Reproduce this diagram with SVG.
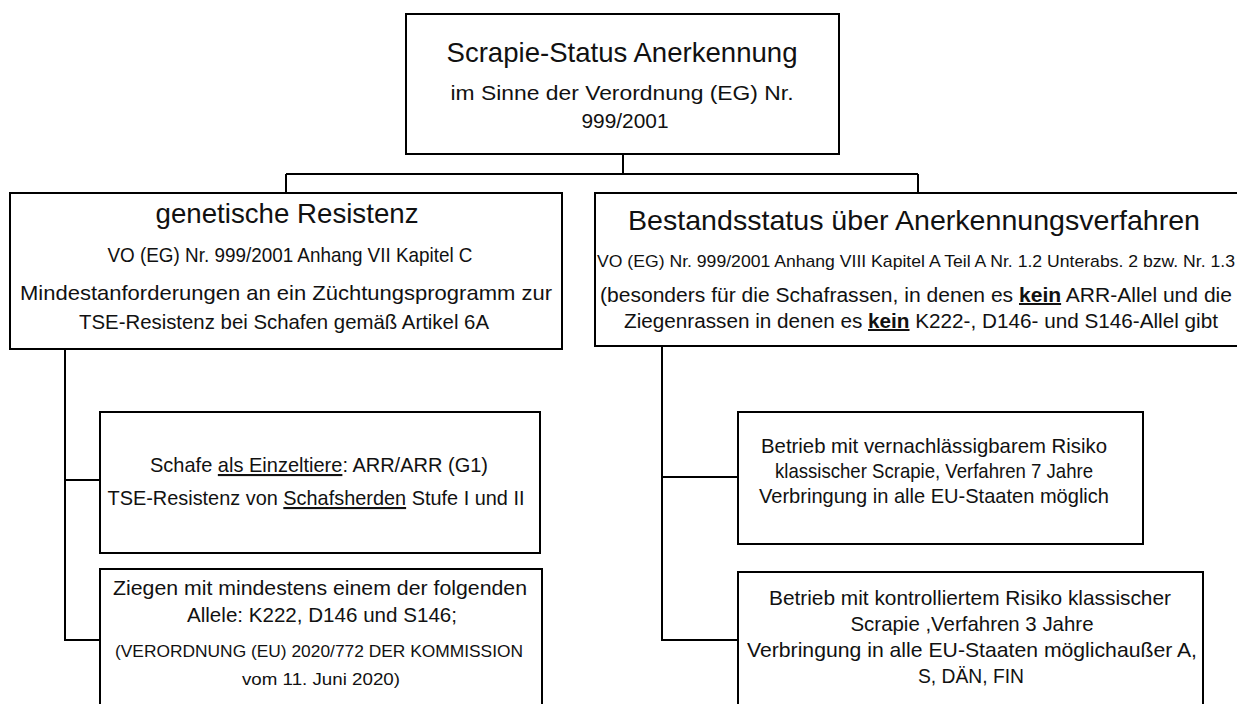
<svg xmlns="http://www.w3.org/2000/svg" width="1237" height="704" viewBox="0 0 1237 704">
<style>
.box{fill:#fff;stroke:#000;stroke-width:2}
.conn{fill:none;stroke:#000;stroke-width:2}
text{font-family:"Liberation Sans",Arial,sans-serif;fill:#111;text-anchor:middle}
.t1{font-size:28px}
.b{font-size:21px}
.m{font-size:20px}
.s{font-size:17px}
.u{text-decoration:underline}
.k{font-weight:bold;text-decoration:underline}
</style>
<rect width="1237" height="704" fill="#fff"/>
<g id="connectors" class="conn">
<path d="M623,154 V174 M286,174 H918 M286,174 V193 M918,174 V193"/>
<path d="M65,349 V640 H100 M65,480 H100"/>
<path d="M662,346 V640 H738 M662,477 H738"/>
</g>
<g id="root">
<rect class="box" x="406" y="14" width="433" height="140"/>
<text class="t1" x="622" y="62" textLength="351" lengthAdjust="spacingAndGlyphs">Scrapie-Status Anerkennung</text>
<text class="b" x="622" y="100" textLength="343" lengthAdjust="spacingAndGlyphs">im Sinne der Verordnung (EG) Nr.</text>
<text class="b" x="625" y="128" textLength="87" lengthAdjust="spacingAndGlyphs">999/2001</text>
</g>
<g id="genetische">
<rect class="box" x="10" y="193" width="552" height="156"/>
<text class="t1" x="287" y="223" textLength="263" lengthAdjust="spacingAndGlyphs">genetische Resistenz</text>
<text class="b" x="290" y="262" textLength="365" lengthAdjust="spacingAndGlyphs">VO (EG) Nr. 999/2001 Anhang VII Kapitel C</text>
<text class="b" x="286" y="300" textLength="532" lengthAdjust="spacingAndGlyphs">Mindestanforderungen an ein Züchtungsprogramm zur</text>
<text class="b" x="284" y="329" textLength="410" lengthAdjust="spacingAndGlyphs">TSE-Resistenz bei Schafen gemäß Artikel 6A</text>
</g>
<g id="bestand">
<rect class="box" x="595" y="193" width="650" height="153"/>
<text class="t1" x="914" y="230" textLength="572" lengthAdjust="spacingAndGlyphs">Bestandsstatus über Anerkennungsverfahren</text>
<text class="s" x="916" y="267" textLength="638" lengthAdjust="spacingAndGlyphs">VO (EG) Nr. 999/2001 Anhang VIII Kapitel A Teil A Nr. 1.2 Unterabs. 2 bzw. Nr. 1.3</text>
<text class="m" x="916" y="302" textLength="632" lengthAdjust="spacingAndGlyphs">(besonders für die Schafrassen, in denen es <tspan class="k">kein</tspan> ARR-Allel und die</text>
<text class="m" x="921" y="328" textLength="594" lengthAdjust="spacingAndGlyphs">Ziegenrassen in denen es <tspan class="k">kein</tspan> K222-, D146- und S146-Allel gibt</text>
</g>
<g id="schafe">
<rect class="box" x="100" y="412" width="440" height="141"/>
<text class="b" x="319" y="472" textLength="338" lengthAdjust="spacingAndGlyphs">Schafe <tspan class="u">als Einzeltiere</tspan>: ARR/ARR (G1)</text>
<text class="b" x="316" y="505" textLength="417" lengthAdjust="spacingAndGlyphs">TSE-Resistenz von <tspan class="u">Schafsherden</tspan> Stufe I und II</text>
</g>
<g id="ziegen">
<rect class="box" x="100" y="569" width="442" height="150"/>
<text class="b" x="320" y="595" textLength="414" lengthAdjust="spacingAndGlyphs">Ziegen mit mindestens einem der folgenden</text>
<text class="b" x="322" y="622" textLength="270" lengthAdjust="spacingAndGlyphs">Allele: K222, D146 und S146;</text>
<text class="s" x="319" y="657" textLength="408" lengthAdjust="spacingAndGlyphs">(VERORDNUNG (EU) 2020/772 DER KOMMISSION</text>
<text class="s" x="321" y="685" textLength="158" lengthAdjust="spacingAndGlyphs">vom 11. Juni 2020)</text>
</g>
<g id="vernachlaessigbar">
<rect class="box" x="738" y="412" width="405" height="132"/>
<text class="b" x="934" y="453" textLength="346" lengthAdjust="spacingAndGlyphs">Betrieb mit vernachlässigbarem Risiko</text>
<text class="b" x="934" y="478" textLength="318" lengthAdjust="spacingAndGlyphs">klassischer Scrapie, Verfahren 7 Jahre</text>
<text class="b" x="934" y="503" textLength="350" lengthAdjust="spacingAndGlyphs">Verbringung in alle EU-Staaten möglich</text>
</g>
<g id="kontrolliert">
<rect class="box" x="738" y="572" width="465" height="150"/>
<text class="b" x="970" y="605" textLength="402" lengthAdjust="spacingAndGlyphs">Betrieb mit kontrolliertem Risiko klassischer</text>
<text class="b" x="972" y="631" textLength="243" lengthAdjust="spacingAndGlyphs">Scrapie ,Verfahren 3 Jahre</text>
<text class="b" x="972" y="657" textLength="450" lengthAdjust="spacingAndGlyphs">Verbringung in alle EU-Staaten möglichaußer A,</text>
<text class="b" x="971" y="683" textLength="106" lengthAdjust="spacingAndGlyphs">S, DÄN, FIN</text>
</g>
</svg>
